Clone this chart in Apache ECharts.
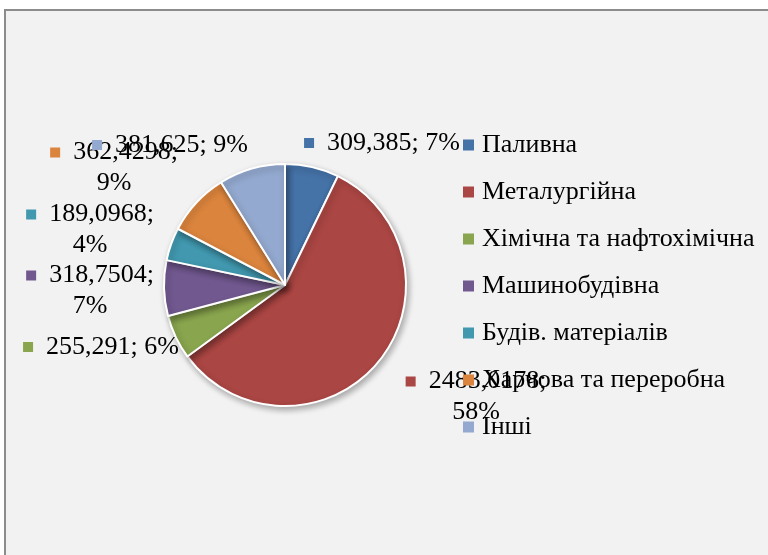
<!DOCTYPE html>
<html>
<head>
<meta charset="utf-8">
<script src="https://cdn.jsdelivr.net/npm/echarts@6/dist/echarts.min.js"></script>
<style>
  body { margin: 0; background: #fff; }
  #frame {
    position: absolute; left: 4px; top: 9px; width: 800px; height: 600px;
    border-left: 2px solid #8c8c8c; border-top: 2px solid #8c8c8c;
    background: #f2f2f2;
  }
  #chart { position: absolute; left: 0; top: 0; width: 768px; height: 555px; }
</style>
</head>
<body>
<div id="frame"></div>
<div id="chart"></div>
<script>
// Галузі та їх значення
const categories = ['Паливна', 'Металургійна', 'Хімічна та нафтохімічна', 'Машинобудівна',
  'Будів. матеріалів', 'Харчова та переробна', 'Інші'];
const values = [309.385, 2483.0178, 255.291, 318.7504, 189.0968, 362.4298, 381.625];
const colors = ['#4572A7', '#AA4643', '#89A54E', '#71588F', '#4198AF', '#DB843D', '#93A9CF'];

const font = '"Liberation Serif", "DejaVu Serif", serif';

// Розташування підписів (центр блоку) та перенос рядка
const labelPos = [[382, 143], [476, 397], [101, 347], [90, 291], [90, 230], [114, 168], [170, 145]];
const wrap = [false, true, false, true, true, true, false];

const rich = { t: { fontSize: 26, fontFamily: font, color: '#000', lineHeight: 31 }, s: { width: 13 } };
colors.forEach((c, i) => {
  rich['k' + i] = { width: 10, height: 10, backgroundColor: c };
});

const chart = echarts.init(document.getElementById('chart'));

chart.setOption({
  backgroundColor: 'transparent',
  color: colors,
  legend: {
    orient: 'vertical',
    left: 463,
    top: 132,
    padding: 0,
    icon: 'rect',
    itemWidth: 11,
    itemHeight: 11,
    itemGap: 21,
    itemStyle: { borderWidth: 0, shadowBlur: 0, shadowOffsetX: 0, shadowOffsetY: 0 },
    textStyle: { fontSize: 26, fontFamily: font, color: '#000', lineHeight: 26, padding: [0, 0, 0, 3] },
    data: categories
  },
  series: [{
    type: 'pie',
    center: [285, 285],
    radius: 121,
    startAngle: 90,
    clockwise: true,
    percentPrecision: 0,
    animation: false,
    itemStyle: {
      borderColor: '#fff',
      borderWidth: 2,
      shadowBlur: 6,
      shadowOffsetX: 2,
      shadowOffsetY: 3,
      shadowColor: 'rgba(0,0,0,0.3)'
    },
    label: {
      show: true,
      rich: rich,
      align: 'center',
      overflow: 'none',
      formatter: p => {
        const v = String(p.value).replace('.', ',');
        const key = '{k' + p.dataIndex + '|}{s|}';
        return wrap[p.dataIndex]
          ? key + '{t|' + v + ';}\n{t|' + p.percent + '%}'
          : key + '{t|' + v + '; ' + p.percent + '%}';
      }
    },
    labelLine: { show: false },
    labelLayout: p => ({
      x: labelPos[p.dataIndex][0],
      y: labelPos[p.dataIndex][1],
      align: 'center',
      verticalAlign: 'middle'
    }),
    emphasis: { disabled: true },
    data: categories.map((name, i) => ({ name: name, value: values[i] }))
  }]
});

window.addEventListener('resize', () => chart.resize());
</script>
</body>
</html>
